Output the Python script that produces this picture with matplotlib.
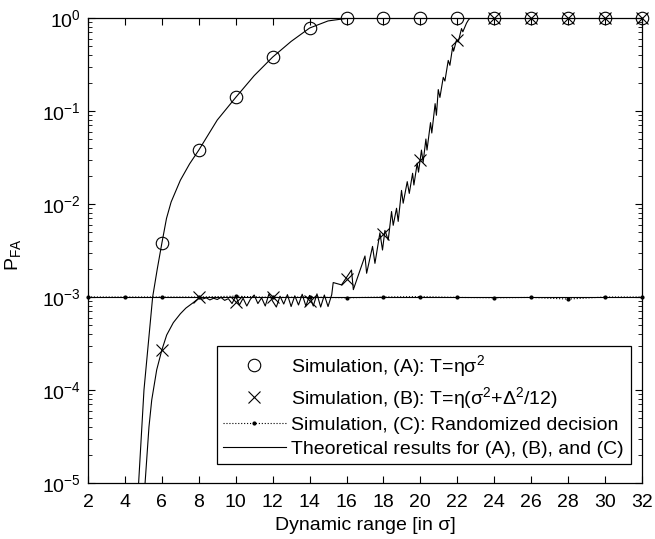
import matplotlib
matplotlib.use("Agg")
import matplotlib.pyplot as plt
import numpy as np

plt.rcParams['font.family'] = ['Liberation Sans', 'DejaVu Sans']
plt.rcParams['mathtext.fontset'] = 'custom'
plt.rcParams['mathtext.rm'] = 'Liberation Sans'
plt.rcParams['mathtext.it'] = 'Liberation Sans:italic'
plt.rcParams['font.size'] = 14

# simulation points (even dynamic ranges)
sim_x = [6, 8, 10, 12, 14, 16, 18, 20, 22, 24, 26, 28, 30, 32]
sim_a = [3.8e-3, 0.038, 0.14, 0.38, 0.78, 1.0, 1.0, 1.0, 1.0, 1.0, 1.0, 1.0, 1.0, 1.0]
sim_b = [2.7e-4, 1.0e-3, 0.88e-3, 1.0e-3, 0.9e-3, 1.55e-3, 4.7e-3, 0.03, 0.58,
         1.0, 1.0, 1.0, 1.0, 1.0]
sim_c_x = [2, 4, 6, 8, 10, 12, 14, 16, 18, 20, 22, 24, 26, 28, 30, 32]
sim_c = [1.0e-3, 1.0e-3, 1.0e-3, 1.0e-3, 1.02e-3, 0.99e-3, 1.0e-3, 0.98e-3, 1.0e-3,
         1.01e-3, 0.99e-3, 0.98e-3, 0.99e-3, 0.95e-3, 1.0e-3, 1.0e-3]

# theory (A)
theo_a_x = [4.7, 4.74, 5.03, 5.5, 5.75, 6.0, 6.25, 6.5, 7.0, 7.5, 8.0, 9.0, 10.0,
            11.0, 12.0, 13.0, 14.0, 15.0, 16.0, 17.0, 32.0]
theo_a = [8e-6, 1e-5, 1e-4, 1e-3, 2e-3, 3.8e-3, 7e-3, 0.0105, 0.018, 0.027, 0.038,
          0.08, 0.14, 0.24, 0.38, 0.56, 0.78, 0.93, 0.99, 1.0, 1.0]

# theory (B) - jagged
theo_b_x = [5.05, 5.09, 5.3, 5.45, 5.72, 6.0, 6.26, 6.62, 7.0, 7.3, 7.7, 8.0,
            8.2, 8.4, 8.6, 8.8, 9.0, 9.2, 9.4, 9.6, 9.8, 10.0, 10.2, 10.4, 10.6,
            10.8, 11.0, 11.2, 11.4, 11.6, 11.8, 12.0, 12.2, 12.4, 12.6, 12.8,
            13.0, 13.2, 13.4, 13.6, 13.8, 14.0, 14.2, 14.4, 14.6, 14.8, 15.0,
            15.2, 15.28, 15.73, 16.27, 16.37, 17.0, 17.09, 17.41, 17.54, 17.81,
            17.95, 18.08, 18.26, 18.44, 18.53, 18.71, 18.8, 18.98, 19.07, 19.29,
            19.4, 19.58, 19.65, 19.83, 19.9, 20.06, 20.15, 20.3, 20.36, 20.55,
            20.62, 20.8, 20.87, 20.97, 21.06, 21.24, 21.33, 21.51, 21.6, 21.75,
            21.8, 21.96, 22.05, 22.23, 22.3, 22.5, 22.6, 22.7, 32.0]
theo_b = [8e-6, 1e-5, 4e-5, 7.8e-5, 1.65e-4, 2.7e-4, 3.9e-4, 5.3e-4, 6.6e-4,
          7.6e-4, 8.7e-4, 0.97e-3,
          0.95e-3, 0.98e-3, 0.93e-3, 0.97e-3, 0.94e-3, 0.99e-3, 0.92e-3,
          0.96e-3, 0.85e-3, 1.02e-3, 0.82e-3, 0.97e-3, 0.8e-3, 0.95e-3,
          1.05e-3, 0.85e-3, 0.98e-3, 0.80e-3, 1.08e-3, 0.90e-3, 0.78e-3,
          1.02e-3, 0.84e-3, 1.06e-3, 0.79e-3, 1.03e-3, 0.82e-3, 1.07e-3,
          0.8e-3, 1.04e-3, 0.80e-3, 1.08e-3, 0.78e-3, 1.05e-3, 0.79e-3,
          1.06e-3, 1.43e-3, 1.35e-3, 1.95e-3, 1.2e-3, 2.76e-3, 1.8e-3, 3.5e-3,
          2.3e-3, 4.9e-3, 3.2e-3, 5.2e-3, 4.1e-3, 8.3e-3, 5.9e-3, 9.0e-3,
          6.5e-3, 0.014, 0.0102, 0.0174, 0.013, 0.0214, 0.016, 0.0275, 0.022,
          0.038, 0.028, 0.05, 0.038, 0.075, 0.058, 0.12, 0.09, 0.17, 0.14,
          0.23, 0.21, 0.35, 0.31, 0.49, 0.44, 0.58, 0.55, 0.77, 0.71, 0.88,
          0.95, 1.0, 1.0]

# theory (C)
theo_c_x = [2, 32]
theo_c = [1e-3, 1e-3]

fig = plt.figure(figsize=(6.55, 5.39), dpi=100)
ax = fig.add_axes([0.1344, 0.1039, 0.8456, 0.8627])

lw = 0.8
ax.plot(theo_a_x, theo_a, '-', color='k', lw=lw)
ax.plot(theo_b_x, theo_b, '-', color='k', lw=lw)
ax.plot(theo_c_x, theo_c, '-', color='k', lw=lw)
ax.plot(sim_x, sim_a, 'o', mfc='none', mec='k', ms=9, mew=0.8, clip_on=False)
ax.plot(sim_x, sim_b, 'x', color='k', ms=9, mew=0.8, clip_on=False)
ax.plot(sim_c_x, sim_c, ':', marker='.', color='k', ms=4, lw=0.8, clip_on=False)

ax.set_yscale('log')
ax.set_xlim(2, 32)
ax.set_ylim(1e-5, 1)
ax.set_xticks(np.arange(2, 33, 2))
ax.tick_params(which='both', direction='in', top=True, right=True)
ax.tick_params(which='major', length=5, width=0.8)
ax.tick_params(which='minor', length=3, width=0.6)
ax.tick_params(axis='x', pad=8)
ax.tick_params(axis='y', pad=5)
for s in ax.spines.values():
    s.set_linewidth(0.9)

ax.set_xlabel('Dynamic range [in σ]', labelpad=4)
ax.set_ylabel(r'P$_{\mathregular{FA}}$')
ax.yaxis.set_label_coords(-0.118, 0.49)

handles = [
    plt.Line2D([], [], ls='none', marker='o', mfc='none', mec='k', ms=9, mew=0.8),
    plt.Line2D([], [], ls='none', marker='x', color='k', ms=9, mew=0.8),
    plt.Line2D([], [], ls=':', marker='.', color='k', ms=4, lw=0.8),
    plt.Line2D([], [], ls='-', color='k', lw=lw),
]
labels = [
    r'Simulation, (A): T=ησ$^{\mathregular{2}}$',
    r'Simulation, (B): T=η(σ$^{\mathregular{2}}$+Δ$^{\mathregular{2}}$/12)',
    'Simulation, (C): Randomized decision',
    'Theoretical results for (A), (B), and (C)',
]
leg = ax.legend(handles, labels, loc='lower right', bbox_to_anchor=(0.98, 0.04),
                borderaxespad=0, handlelength=3.2, fancybox=False, framealpha=1,
                edgecolor='k', borderpad=0.35, labelspacing=0.3, handletextpad=0.3)
leg.get_frame().set_linewidth(0.9)

fig.savefig('out.png', dpi=100)
